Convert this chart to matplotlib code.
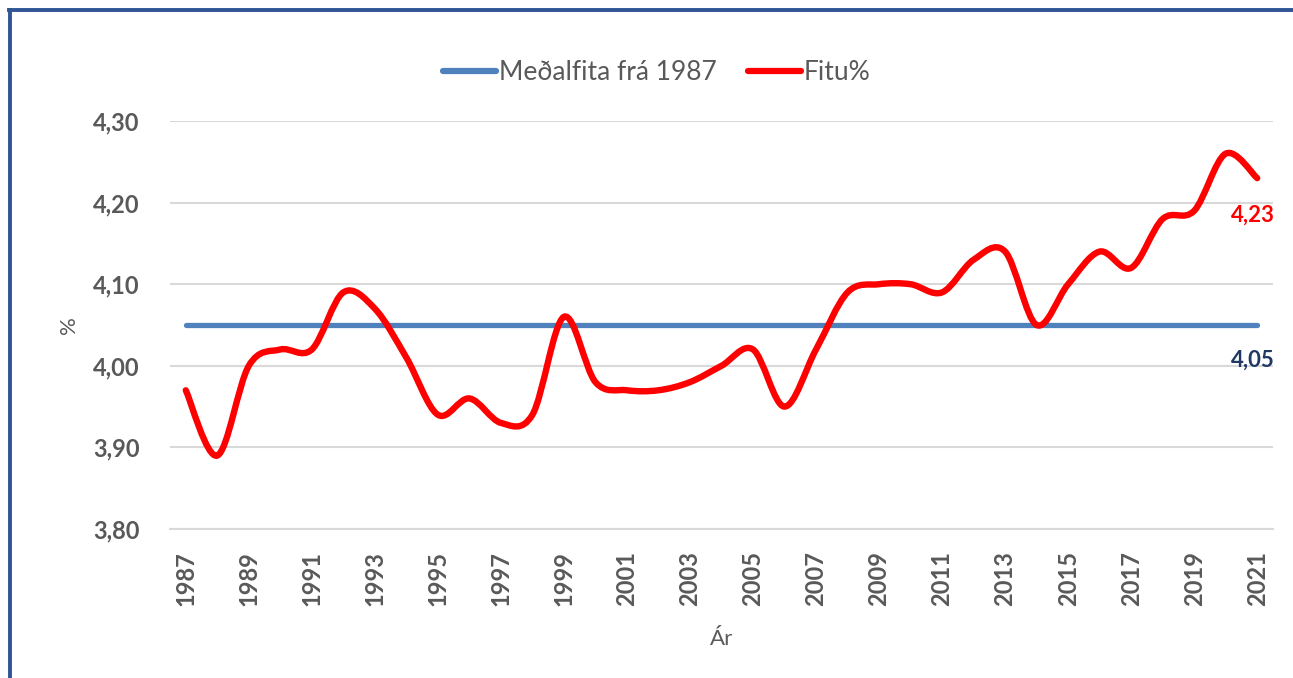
import matplotlib
matplotlib.use('Agg')
import matplotlib.pyplot as plt
from matplotlib.path import Path
from matplotlib.patches import PathPatch
from matplotlib.lines import Line2D
from matplotlib.ticker import FuncFormatter

plt.rcParams['font.family'] = ['Lato', 'DejaVu Sans']

# Data
years = list(range(1987, 2022))
fat_pct = [3.97, 3.89, 4.00, 4.02, 4.02, 4.09, 4.07, 4.01, 3.94, 3.96,
           3.93, 3.94, 4.06, 3.98, 3.97, 3.97, 3.98, 4.00, 4.02, 3.95,
           4.02, 4.09, 4.10, 4.10, 4.09, 4.13, 4.14, 4.05, 4.10, 4.14,
           4.12, 4.18, 4.19, 4.26, 4.23]
mean_fat = [4.05] * len(years)
y_ticks = [3.80, 3.90, 4.00, 4.10, 4.20, 4.30]

grey = '#595959'
red = '#FF0000'
blue = '#4F81BD'


# Excel-style smoothed line: cubic Bezier segments through the data points
def smooth_path(xs, ys):
    n = len(xs)
    verts = [(xs[0], ys[0])]
    codes = [Path.MOVETO]
    for i in range(n - 1):
        x0, y0 = xs[max(i - 1, 0)], ys[max(i - 1, 0)]
        x1, y1 = xs[i], ys[i]
        x2, y2 = xs[i + 1], ys[i + 1]
        x3, y3 = xs[min(i + 2, n - 1)], ys[min(i + 2, n - 1)]
        c1 = (x1 + (x2 - x0) / 6, y1 + (y2 - y0) / 6)
        c2 = (x2 - (x3 - x1) / 6, y2 - (y3 - y1) / 6)
        verts += [c1, c2, (x2, y2)]
        codes += [Path.CURVE4] * 3
    return Path(verts, codes)


fig = plt.figure(figsize=(12.93, 6.78), dpi=100)
ax = fig.add_axes([0.1315, 0.2198, 0.853, 0.6017])

ax.plot(years, mean_fat, color=blue, linewidth=3.8, solid_capstyle='round', zorder=3)
ax.add_patch(PathPatch(smooth_path(years, fat_pct), fill=False, edgecolor=red,
                       linewidth=4.6, capstyle='round', zorder=4))

ax.set_xlim(years[0] - 0.5, years[-1] + 0.5)
ax.set_ylim(3.80, 4.30)
ax.set_yticks(y_ticks)
ax.yaxis.set_major_formatter(FuncFormatter(lambda v, p: f'{v:.2f}'.replace('.', ',')))
ax.set_xticks(years[::2])
ax.set_xticklabels([str(y) for y in years[::2]], rotation=90)

ax.grid(axis='y', color='#D9D9D9', linewidth=1.5)
ax.set_axisbelow(True)
for s in ['top', 'right', 'left']:
    ax.spines[s].set_visible(False)
ax.spines['bottom'].set_color('#D9D9D9')
ax.spines['bottom'].set_linewidth(1.5)
ax.tick_params(length=0, colors=grey, labelsize=17)
ax.tick_params(axis='y', pad=22)
ax.tick_params(axis='x', pad=16)
for lab in ax.get_xticklabels() + ax.get_yticklabels():
    lab.set_fontweight('bold')

ax.set_ylabel('%', color=grey, fontsize=16, labelpad=10)
ax.set_xlabel('Ár', color=grey, fontsize=16, labelpad=16)

# data labels at the last point
ax.text(years[-1] + 0.55, fat_pct[-1] - 0.045, '4,23', color=red, fontsize=16,
        fontweight='bold', ha='right', va='center')
ax.text(years[-1] + 0.55, mean_fat[-1] - 0.043, '4,05', color='#1F3864', fontsize=16,
        fontweight='bold', ha='right', va='center')

handles = [Line2D([], [], color=blue, linewidth=4.5, solid_capstyle='round'),
           Line2D([], [], color=red, linewidth=4.5, solid_capstyle='round')]
fig.legend(handles, ['Meðalfita frá 1987', 'Fitu%'], loc='center',
           bbox_to_anchor=(0.508, 0.893), ncol=2, frameon=False, fontsize=19,
           handlelength=2.0, handletextpad=0.1, columnspacing=1.2, labelcolor=grey)

# dark blue frame (left and top edges visible)
fig.add_artist(Line2D([0.0077, 0.0077], [0, 0.985], color='#2F5597', linewidth=2.8,
                      transform=fig.transFigure))
fig.add_artist(Line2D([0.0066, 1.0], [0.985, 0.985], color='#2F5597', linewidth=2.8,
                      transform=fig.transFigure))

fig.savefig('out.png', dpi=100)
